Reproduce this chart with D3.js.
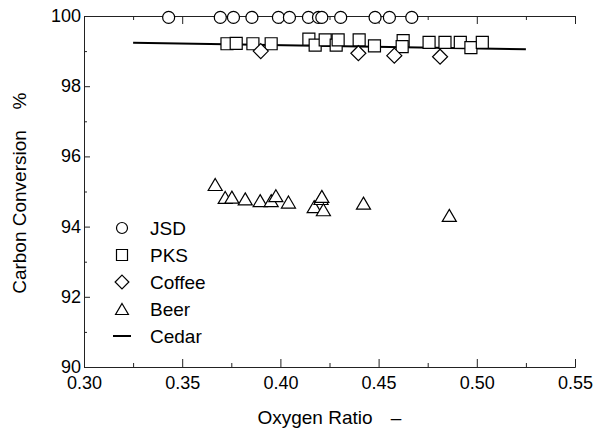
<!DOCTYPE html>
<html>
<head>
<meta charset="utf-8">
<script src="https://cdn.jsdelivr.net/npm/d3@7"></script>
<style>
  body { margin: 0; background: #fff; }
  text { font-family: "Liberation Sans", Arial, sans-serif; }
</style>
</head>
<body>
<script>
// data
const jsdX = [0.3431, 0.3694, 0.3761, 0.3855, 0.3990, 0.4046, 0.4143, 0.4194, 0.4211, 0.4307, 0.4482, 0.4555, 0.4669]
const jsdY = [99.96, 99.96, 99.96, 99.96, 99.96, 99.96, 99.96, 99.96, 99.96, 99.96, 99.96, 99.96, 99.96]

const pksX = [0.3728, 0.3775, 0.3860, 0.3953, 0.4145, 0.4177, 0.4228, 0.4284, 0.4294, 0.4401, 0.4479, 0.4625, 0.4620, 0.4757, 0.4838, 0.4916, 0.4970, 0.5028]
const pksY = [99.21, 99.22, 99.21, 99.21, 99.34, 99.17, 99.32, 99.17, 99.32, 99.32, 99.15, 99.30, 99.13, 99.25, 99.25, 99.25, 99.10, 99.25]

const coffeeX = [0.3900, 0.4397, 0.4580, 0.4813]
const coffeeY = [99.00, 98.94, 98.87, 98.84]

const beerX = [0.3668, 0.3719, 0.3753, 0.3821, 0.3897, 0.3953, 0.3977, 0.4041, 0.4172, 0.4207, 0.4211, 0.4219, 0.4423, 0.4860]
const beerY = [95.20, 94.83, 94.84, 94.79, 94.74, 94.74, 94.88, 94.70, 94.57, 94.80, 94.86, 94.48, 94.67, 94.32]

const cedarX = [0.325, 0.525]
const cedarY = [99.24, 99.05]

const xTicks = [0.30, 0.35, 0.40, 0.45, 0.50, 0.55]
const xMinor = [0.325, 0.375, 0.425, 0.475, 0.525]
const yTicks = [90, 92, 94, 96, 98, 100]
const yMinor = [91, 93, 95, 97, 99]

const legendNames = ['JSD', 'PKS', 'Coffee', 'Beer', 'Cedar']

const W = 594, H = 430
const pLeft = 84, pRight = 575, pTop = 16, pBottom = 367
const tickFs = 18
const fs = 19

const svg = d3.select('body').append('svg')
    .attr('width', W)
    .attr('height', H)

const x = d3.scaleLinear().domain([0.30, 0.55]).range([pLeft, pRight])
const y = d3.scaleLinear().domain([90, 100]).range([pBottom, pTop])

function styleAxis(g) {
    g.selectAll('path, line').attr('stroke', '#222').attr('stroke-width', 1)
    g.selectAll('text').attr('fill', '#000').style('font-size', tickFs + 'px')
        .style('font-family', '"Liberation Sans", Arial, sans-serif')
}

// bottom axis
svg.append('g').attr('transform', `translate(0,${pBottom})`)
    .call(d3.axisBottom(x).tickValues(xTicks).tickSize(-8).tickSizeOuter(0).tickPadding(9).tickFormat(d3.format('.2f')))
    .call(styleAxis)
svg.append('g').attr('transform', `translate(0,${pBottom})`)
    .call(d3.axisBottom(x).tickValues(xMinor).tickSize(-4).tickSizeOuter(0).tickFormat(''))
    .call(styleAxis)

// top axis
svg.append('g').attr('transform', `translate(0,${pTop})`)
    .call(d3.axisTop(x).tickValues(xTicks).tickSize(-8).tickSizeOuter(0).tickFormat(''))
    .call(styleAxis)
svg.append('g').attr('transform', `translate(0,${pTop})`)
    .call(d3.axisTop(x).tickValues(xMinor).tickSize(-4).tickSizeOuter(0).tickFormat(''))
    .call(styleAxis)

// left axis
svg.append('g').attr('transform', `translate(${pLeft},0)`)
    .call(d3.axisLeft(y).tickValues(yTicks).tickSize(-6).tickSizeOuter(0).tickPadding(3).tickFormat(d3.format('d')))
    .call(styleAxis)
    .call(g => g.selectAll('.tick text').attr('dy', '0.3em'))
svg.append('g').attr('transform', `translate(${pLeft},0)`)
    .call(d3.axisLeft(y).tickValues(yMinor).tickSize(-3).tickSizeOuter(0).tickFormat(''))
    .call(styleAxis)

// axis titles
svg.append('text')
    .attr('x', 315).attr('y', 424)
    .attr('text-anchor', 'middle')
    .style('font-size', fs + 'px')
    .text('Oxygen Ratio')
svg.append('text')
    .attr('x', 396).attr('y', 424)
    .attr('text-anchor', 'middle')
    .style('font-size', fs + 'px')
    .text('–')
svg.append('text')
    .attr('transform', 'translate(26,212) rotate(-90)')
    .attr('text-anchor', 'middle')
    .style('font-size', fs + 'px')
    .text('Carbon Conversion')
svg.append('text')
    .attr('transform', 'translate(26,101) rotate(-90)')
    .attr('text-anchor', 'middle')
    .style('font-size', fs + 'px')
    .text('%')

// cedar line
svg.append('path')
    .datum(d3.zip(cedarX, cedarY))
    .attr('d', d3.line().x(d => x(d[0])).y(d => y(d[1])))
    .attr('fill', 'none')
    .attr('stroke', '#000')
    .attr('stroke-width', 2)

// marker shapes
const shapes = {
    circle: s => `M${s},0A${s},${s} 0 1,1 ${-s},0A${s},${s} 0 1,1 ${s},0Z`,
    square: s => `M${-s},${-s}H${s}V${s}H${-s}Z`,
    diamond: s => `M0,${-s * 1.25}L${s * 1.25},0L0,${s * 1.25}L${-s * 1.25},0Z`,
    triangle: s => `M0,${-s}L${s * 1.17},${s}L${-s * 1.17},${s}Z`
}

function drawSeries(xs, ys, shape, size) {
    svg.append('g').selectAll('path')
        .data(d3.zip(xs, ys))
        .join('path')
        .attr('transform', d => `translate(${x(d[0])},${y(d[1])})`)
        .attr('d', shapes[shape](size))
        .attr('fill', '#fff')
        .attr('stroke', '#000')
        .attr('stroke-width', 1.2)
}

drawSeries(jsdX, jsdY, 'circle', 6)
drawSeries(pksX, pksY, 'square', 6)
drawSeries(coffeeX, coffeeY, 'diamond', 6)
drawSeries(beerX, beerY, 'triangle', 6)

// legend
const legShapes = ['circle', 'square', 'diamond', 'triangle']
const leg = svg.append('g')
legendNames.forEach((name, i) => {
    const ly = 228 + i * 27
    if (i < 4) {
        leg.append('path')
            .attr('transform', `translate(122,${ly})`)
            .attr('d', shapes[legShapes[i]](5.5))
            .attr('fill', '#fff')
            .attr('stroke', '#000')
            .attr('stroke-width', 1.2)
    } else {
        leg.append('line')
            .attr('x1', 113).attr('x2', 131)
            .attr('y1', ly).attr('y2', ly)
            .attr('stroke', '#000')
            .attr('stroke-width', 2)
    }
    leg.append('text')
        .attr('x', 150).attr('y', ly)
        .attr('dy', '0.35em')
        .style('font-size', fs + 'px')
        .text(name)
})
</script>
</body>
</html>
